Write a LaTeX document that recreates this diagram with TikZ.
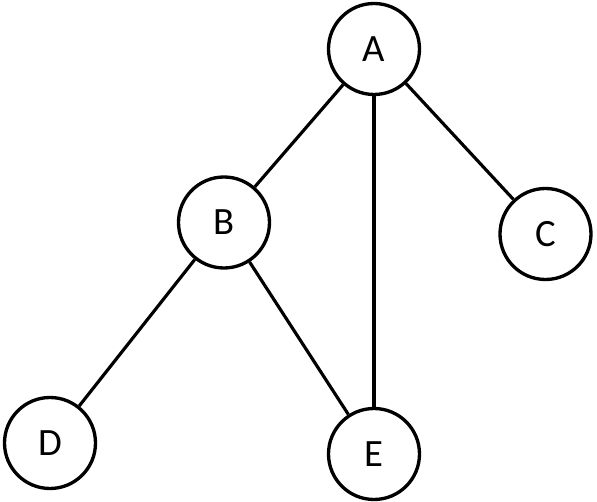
\documentclass[tikz,border=0pt]{standalone}
\usepackage{fontspec}
\setmainfont{Carlito}
\usepackage{tikz}
\usetikzlibrary{positioning}

\begin{document}
\begin{tikzpicture}[
    vertex/.style={draw, circle, line width=1.9pt, minimum size=1.82cm, inner sep=0pt, font=\fontsize{22}{26}\selectfont},
    edge/.style={line width=1.8pt}
  ]
      \useasboundingbox (0,0) rectangle (11.94,10.04);
      \node[vertex] (A) at (7.48,9.06) {A};
      \node[vertex] (B) at (4.48,5.59) {B};
      \node[vertex] (C) at (10.91,5.36) {C};
      \node[vertex] (D) at (1.00,1.18) {D};
      \node[vertex] (E) at (7.48,0.96) {E};
      
      \draw[edge] (A) -- (B);
      \draw[edge] (A) -- (C);
      \draw[edge] (A) -- (E);
      \draw[edge] (B) -- (D);
      \draw[edge] (B) -- (E);
    \end{tikzpicture}
\end{document}
